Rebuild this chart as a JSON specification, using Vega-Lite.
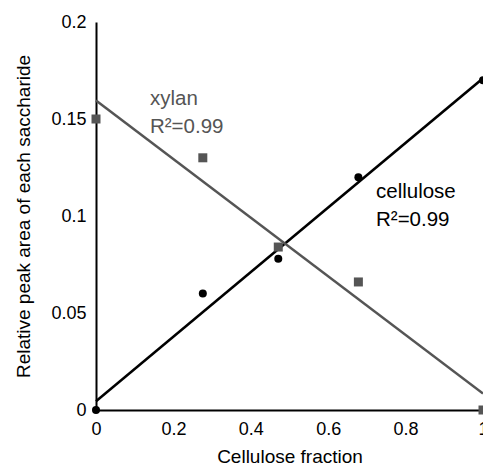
{
  "$schema": "https://vega.github.io/schema/vega-lite/v6.json",
  "width": 387,
  "height": 388,
  "autosize": {"type": "none"},
  "padding": {"left": 96, "top": 22, "right": 0, "bottom": 56},
  "background": "white",
  "config": {
    "view": {"stroke": null},
    "font": "Liberation Sans",
    "axis": {
      "grid": false,
      "domainColor": "black",
      "domainWidth": 2,
      "ticks": false,
      "labelFontSize": 18,
      "labelColor": "black",
      "labelPadding": 10,
      "labelFlush": false,
      "labelOverlap": false,
      "titleFontSize": 19,
      "titleFontWeight": "normal",
      "titleColor": "black"
    }
  },
  "datasets": {
    "points": [
      {"x": 0, "y": 0, "series": "cellulose"},
      {"x": 0.276, "y": 0.06, "series": "cellulose"},
      {"x": 0.471, "y": 0.078, "series": "cellulose"},
      {"x": 0.678, "y": 0.12, "series": "cellulose"},
      {"x": 1, "y": 0.17, "series": "cellulose"},
      {"x": 0, "y": 0.15, "series": "xylan"},
      {"x": 0.276, "y": 0.13, "series": "xylan"},
      {"x": 0.471, "y": 0.084, "series": "xylan"},
      {"x": 0.678, "y": 0.066, "series": "xylan"},
      {"x": 1, "y": 0, "series": "xylan"}
    ],
    "fits": [
      {"x": 0, "y": 0.0045, "series": "cellulose"},
      {"x": 1, "y": 0.171, "series": "cellulose"},
      {"x": 0, "y": 0.1595, "series": "xylan"},
      {"x": 1, "y": 0.0085, "series": "xylan"}
    ],
    "labels": [
      {"x": 0.1395, "y": 0.1572, "series": "xylan", "text": "xylan"},
      {"x": 0.1395, "y": 0.1428, "series": "xylan", "text": "R²=0.99"},
      {"x": 0.7235, "y": 0.1093, "series": "cellulose", "text": "cellulose"},
      {"x": 0.7235, "y": 0.0948, "series": "cellulose", "text": "R²=0.99"}
    ],
    "xticks": [{"x": 0.2}, {"x": 0.4}, {"x": 0.6}, {"x": 0.8}],
    "yticks": [{"y": 0.05}, {"y": 0.1}, {"y": 0.15}, {"y": 0.2}]
  },
  "encoding": {
    "x": {
      "field": "x", "type": "quantitative",
      "scale": {"domain": [0, 1], "nice": false, "zero": false},
      "axis": {"title": "Cellulose fraction", "values": [0, 0.2, 0.4, 0.6, 0.8, 1], "format": ".1~f", "titlePadding": 9}
    },
    "y": {
      "field": "y", "type": "quantitative",
      "scale": {"domain": [0, 0.2], "nice": false, "zero": false},
      "axis": {"title": "Relative peak area of each saccharide", "values": [0, 0.05, 0.1, 0.15, 0.2], "format": ".2~f", "titlePadding": 17}
    }
  },
  "layer": [
    {
      "data": {"name": "xticks"},
      "mark": {"type": "tick", "orient": "vertical", "size": 7, "thickness": 2, "yOffset": -3.5, "color": "black", "opacity": 1},
      "encoding": {"y": {"datum": 0, "type": "quantitative"}}
    },
    {
      "data": {"name": "yticks"},
      "mark": {"type": "tick", "orient": "horizontal", "size": 7, "thickness": 2, "xOffset": 3.5, "color": "black", "opacity": 1},
      "encoding": {"x": {"datum": 0, "type": "quantitative"}}
    },
    {
      "data": {"name": "fits"},
      "mark": {"type": "line", "strokeWidth": 2.5, "clip": false},
      "encoding": {
        "detail": {"field": "series"},
        "color": {"field": "series", "type": "nominal", "scale": {"domain": ["cellulose", "xylan"], "range": ["#000000", "#555555"]}, "legend": null}
      }
    },
    {
      "data": {"name": "points"},
      "mark": {"type": "point", "filled": true, "opacity": 1},
      "encoding": {
        "color": {"field": "series", "type": "nominal", "scale": {"domain": ["cellulose", "xylan"], "range": ["#000000", "#555555"]}, "legend": null},
        "shape": {"field": "series", "type": "nominal", "scale": {"domain": ["cellulose", "xylan"], "range": ["circle", "square"]}, "legend": null},
        "size": {"field": "series", "type": "nominal", "scale": {"domain": ["cellulose", "xylan"], "range": [64, 81]}, "legend": null}
      }
    },
    {
      "data": {"name": "labels"},
      "mark": {"type": "text", "align": "left", "baseline": "alphabetic", "fontSize": 20.5},
      "encoding": {
        "text": {"field": "text"},
        "color": {"field": "series", "type": "nominal", "scale": {"domain": ["cellulose", "xylan"], "range": ["#000000", "#555555"]}, "legend": null}
      }
    }
  ]
}
